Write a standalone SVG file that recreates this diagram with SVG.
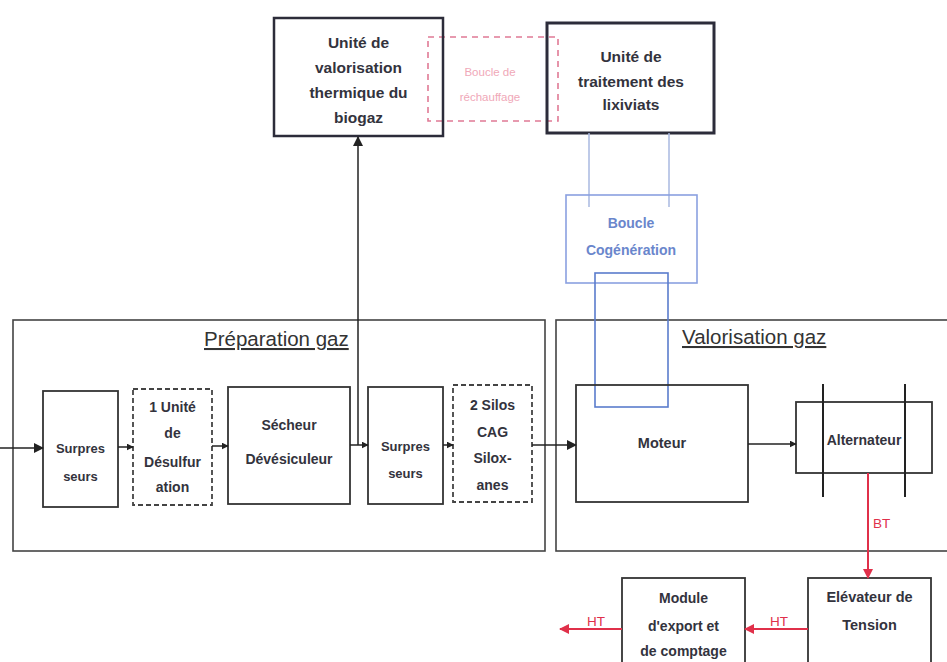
<svg xmlns="http://www.w3.org/2000/svg" width="947" height="662" viewBox="0 0 947 662">
<defs>
<style>
.t{font-family:"Liberation Sans",Arial,sans-serif;font-weight:bold;fill:#33333d;text-anchor:middle}
.box{fill:none;stroke:#333;stroke-width:1.8}
.dash{fill:none;stroke:#444;stroke-width:1.8;stroke-dasharray:5,3}
.sec{fill:none;stroke:#444;stroke-width:1.6}
.title{font-family:"Liberation Sans",Arial,sans-serif;font-size:20.5px;fill:#333;text-decoration:underline}
.ln{fill:none;stroke:#222;stroke-width:1.5}
.red{fill:none;stroke:#e0304a;stroke-width:2}
.rt{font-family:"Liberation Sans",Arial,sans-serif;font-size:13.5px;fill:#e0304a}
</style>
<marker id="ah" viewBox="0 0 10 10" refX="9" refY="5" markerWidth="7" markerHeight="7" markerUnits="userSpaceOnUse" orient="auto"><path d="M0,0L10,5L0,10z" fill="#222"/></marker>
<marker id="ahb" viewBox="0 0 10 10" refX="9" refY="5" markerWidth="10" markerHeight="10" markerUnits="userSpaceOnUse" orient="auto"><path d="M0,0L10,5L0,10z" fill="#222"/></marker>
<marker id="ahr" viewBox="0 0 10 10" refX="9" refY="5" markerWidth="10" markerHeight="10" markerUnits="userSpaceOnUse" orient="auto"><path d="M0,0L10,5L0,10z" fill="#e0304a"/></marker>
</defs>
<rect width="947" height="662" fill="#fff"/>

<g id="sec-preparation">
<rect class="sec" x="13" y="320" width="532" height="231"/>
<text class="title" x="204" y="346">Préparation gaz</text>
</g>
<g id="sec-valorisation">
<rect class="sec" x="556" y="320" width="400" height="231"/>
<text class="title" x="682" y="344">Valorisation gaz</text>
</g>

<g id="boucle-rechauffage">
<rect x="428" y="37" width="130" height="84" fill="none" stroke="#e07a95" stroke-width="1.6" stroke-dasharray="6,5"/>
<text x="490" y="76" font-family="'Liberation Sans',Arial,sans-serif" font-size="11.5" fill="#f0a8b8" text-anchor="middle">Boucle de</text>
<text x="490" y="101" font-family="'Liberation Sans',Arial,sans-serif" font-size="11.5" fill="#f0a8b8" text-anchor="middle">réchauffage</text>
</g>

<g id="valorisation-thermique">
<rect x="274" y="18" width="169" height="118" fill="none" stroke="#2c2c3a" stroke-width="2.5"/>
<text class="t" font-size="15.5" x="358.5" y="48">Unité de</text>
<text class="t" font-size="15.5" x="358.5" y="73">valorisation</text>
<text class="t" font-size="15.5" x="358.5" y="98">thermique du</text>
<text class="t" font-size="15.5" x="358.5" y="123">biogaz</text>
</g>

<g id="traitement-lixiviats">
<rect x="547" y="23" width="167" height="110" fill="none" stroke="#2c2c3a" stroke-width="3"/>
<text class="t" font-size="15.5" x="631" y="62">Unité de</text>
<text class="t" font-size="15.5" x="631" y="87">traitement des</text>
<text class="t" font-size="15.5" x="631" y="110">lixiviats</text>
</g>

<g id="boucle-cogeneration">
<line x1="589" y1="133" x2="589" y2="207" stroke="#a8b8e0" stroke-width="1.5"/>
<line x1="669" y1="133" x2="669" y2="207" stroke="#a8b8e0" stroke-width="1.5"/>
<rect x="566" y="195" width="131" height="88" fill="none" stroke="#8aa0e0" stroke-width="1.6"/>
<text x="631" y="228" font-family="'Liberation Sans',Arial,sans-serif" font-size="14" font-weight="bold" fill="#6a86cc" text-anchor="middle">Boucle</text>
<text x="631" y="255" font-family="'Liberation Sans',Arial,sans-serif" font-size="14" font-weight="bold" fill="#6a86cc" text-anchor="middle">Cogénération</text>
<rect x="595" y="273" width="73" height="134" fill="none" stroke="#5a7ccc" stroke-width="1.6"/>
</g>

<g id="surpresseurs-1">
<rect class="box" x="43" y="391" width="75" height="116"/>
<text class="t" font-size="13" x="80.5" y="453">Surpres</text>
<text class="t" font-size="13" x="80.5" y="481">seurs</text>
</g>

<g id="desulfuration">
<rect class="dash" x="133" y="389" width="79" height="116"/>
<text class="t" font-size="14" x="172.5" y="412">1 Unité</text>
<text class="t" font-size="14" x="172.5" y="438">de</text>
<text class="t" font-size="14" x="172.5" y="467">Désulfur</text>
<text class="t" font-size="14" x="172.5" y="492">ation</text>
</g>

<g id="secheur">
<rect class="box" x="228" y="387" width="122" height="117"/>
<text class="t" font-size="14" x="289" y="430">Sécheur</text>
<text class="t" font-size="14" x="289" y="464">Dévésiculeur</text>
</g>

<g id="surpresseurs-2">
<rect class="box" x="368" y="387" width="75" height="117"/>
<text class="t" font-size="13" x="405.5" y="451">Surpres</text>
<text class="t" font-size="13" x="405.5" y="478">seurs</text>
</g>

<g id="silos-cag">
<rect class="dash" x="453" y="385" width="79" height="117"/>
<text class="t" font-size="14" x="492.5" y="410">2 Silos</text>
<text class="t" font-size="14" x="492.5" y="437">CAG</text>
<text class="t" font-size="14" x="492.5" y="463">Silox-</text>
<text class="t" font-size="14" x="492.5" y="490">anes</text>
</g>

<g id="moteur">
<rect class="box" x="576" y="385" width="172" height="117"/>
<text class="t" font-size="14.5" x="662" y="448">Moteur</text>
</g>

<g id="alternateur">
<rect class="box" x="796" y="402" width="136" height="71"/>
<line x1="823" y1="384" x2="823" y2="497" stroke="#222" stroke-width="2"/>
<line x1="905" y1="384" x2="905" y2="497" stroke="#222" stroke-width="2"/>
<text class="t" font-size="14" x="864" y="445">Alternateur</text>
</g>

<g id="elevateur">
<rect class="box" x="808" y="578" width="123" height="95"/>
<text class="t" font-size="14.5" x="869.5" y="602">Elévateur de</text>
<text class="t" font-size="14.5" x="869.5" y="630">Tension</text>
</g>

<g id="module-export">
<rect class="box" x="622" y="578" width="123" height="95"/>
<text class="t" font-size="14" x="683.5" y="603">Module</text>
<text class="t" font-size="14" x="683.5" y="631">d'export et</text>
<text class="t" font-size="14" x="683.5" y="656">de comptage</text>
</g>

<g id="connectors">
<path class="ln" d="M0,448H43" marker-end="url(#ahb)"/>
<path class="ln" d="M118,447H133" marker-end="url(#ah)"/>
<path class="ln" d="M212,446H228" marker-end="url(#ah)"/>
<path class="ln" d="M350,445H368" marker-end="url(#ah)"/>
<path class="ln" d="M358,445V137" marker-end="url(#ahb)"/>
<path class="ln" d="M443,445H453" marker-end="url(#ah)"/>
<path class="ln" d="M532,445H576" marker-end="url(#ahb)"/>
<path class="ln" d="M748,444H796" marker-end="url(#ah)"/>
<path class="red" d="M868,473V578" marker-end="url(#ahr)"/>
<text class="rt" x="873" y="528">BT</text>
<path class="red" d="M808,629H745" marker-end="url(#ahr)"/>
<text class="rt" x="770" y="626">HT</text>
<path class="red" d="M622,629H560" marker-end="url(#ahr)"/>
<text class="rt" x="587" y="626">HT</text>
</g>
</svg>
